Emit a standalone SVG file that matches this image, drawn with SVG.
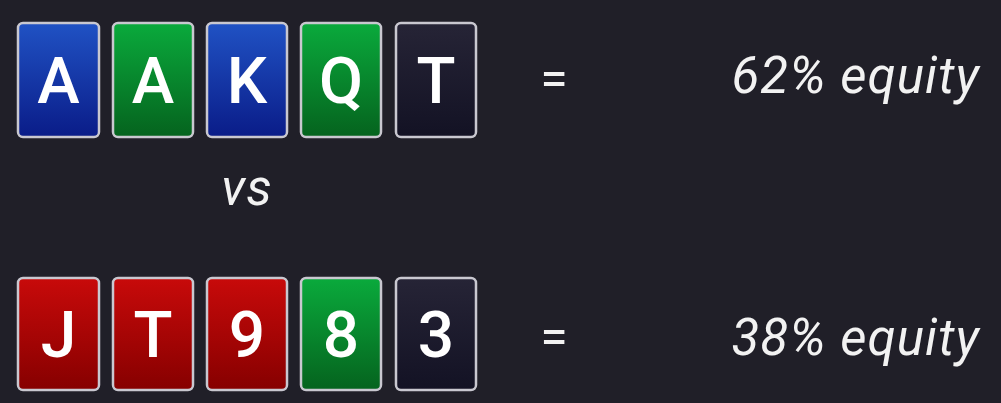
<svg xmlns="http://www.w3.org/2000/svg" width="1001" height="403" viewBox="0 0 1001 403">
<defs>
<linearGradient id="gb" x1="0" y1="0" x2="0" y2="1"><stop offset="0" stop-color="#2052c4"/><stop offset="1" stop-color="#0a1c88"/></linearGradient>
<linearGradient id="gg" x1="0" y1="0" x2="0" y2="1"><stop offset="0" stop-color="#0aaa3c"/><stop offset="1" stop-color="#05631e"/></linearGradient>
<linearGradient id="gr" x1="0" y1="0" x2="0" y2="1"><stop offset="0" stop-color="#c80a0a"/><stop offset="1" stop-color="#860000"/></linearGradient>
<linearGradient id="gd" x1="0" y1="0" x2="0" y2="1"><stop offset="0" stop-color="#262436"/><stop offset="1" stop-color="#131224"/></linearGradient>
</defs>
<style>
.card{stroke:#c9c8d0;stroke-width:2.5}
.cl{font-family:Roboto,"Liberation Sans",sans-serif;font-weight:500;font-size:64px;fill:#fff;text-anchor:middle}
.t{font-family:Roboto,"Liberation Sans",sans-serif;font-style:italic;font-size:51px;letter-spacing:1.1px;fill:#f2f2f2}
.eq{font-family:Roboto,"Liberation Sans",sans-serif;font-size:50px;fill:#f2f2f2;text-anchor:middle}
</style>
<rect width="1001" height="403" fill="#201f28"/>
<g id="row1">
<g id="c1"><rect class="card" x="18" y="23" width="81" height="114" rx="5" fill="url(#gb)"/><text class="cl" x="58.5" y="103">A</text></g>
<g id="c2"><rect class="card" x="113" y="23" width="80" height="114" rx="5" fill="url(#gg)"/><text class="cl" x="153" y="103">A</text></g>
<g id="c3"><rect class="card" x="207" y="23" width="80" height="114" rx="5" fill="url(#gb)"/><text class="cl" x="247" y="103">K</text></g>
<g id="c4"><rect class="card" x="301" y="23" width="80" height="114" rx="5" fill="url(#gg)"/><text class="cl" x="341" y="103">Q</text></g>
<g id="c5"><rect class="card" x="396" y="23" width="80" height="114" rx="5" fill="url(#gd)"/><text class="cl" x="436" y="103">T</text></g>
<text class="eq" x="554" y="96">=</text>
<text class="t" x="980" y="93" text-anchor="end">62% equity</text>
</g>
<text class="t" x="247" y="205" text-anchor="middle" font-size="38" letter-spacing="0">vs</text>
<g id="row2">
<g id="d1"><rect class="card" x="18" y="278" width="81" height="112" rx="5" fill="url(#gr)"/><text class="cl" x="58.5" y="357">J</text></g>
<g id="d2"><rect class="card" x="113" y="278" width="80" height="112" rx="5" fill="url(#gr)"/><text class="cl" x="153" y="357">T</text></g>
<g id="d3"><rect class="card" x="207" y="278" width="80" height="112" rx="5" fill="url(#gr)"/><text class="cl" x="247" y="357">9</text></g>
<g id="d4"><rect class="card" x="301" y="278" width="80" height="112" rx="5" fill="url(#gg)"/><text class="cl" x="341" y="357">8</text></g>
<g id="d5"><rect class="card" x="396" y="278" width="80" height="112" rx="5" fill="url(#gd)"/><text class="cl" x="436" y="357">3</text></g>
<text class="eq" x="554" y="354">=</text>
<text class="t" x="980" y="355" text-anchor="end">38% equity</text>
</g>
</svg>
